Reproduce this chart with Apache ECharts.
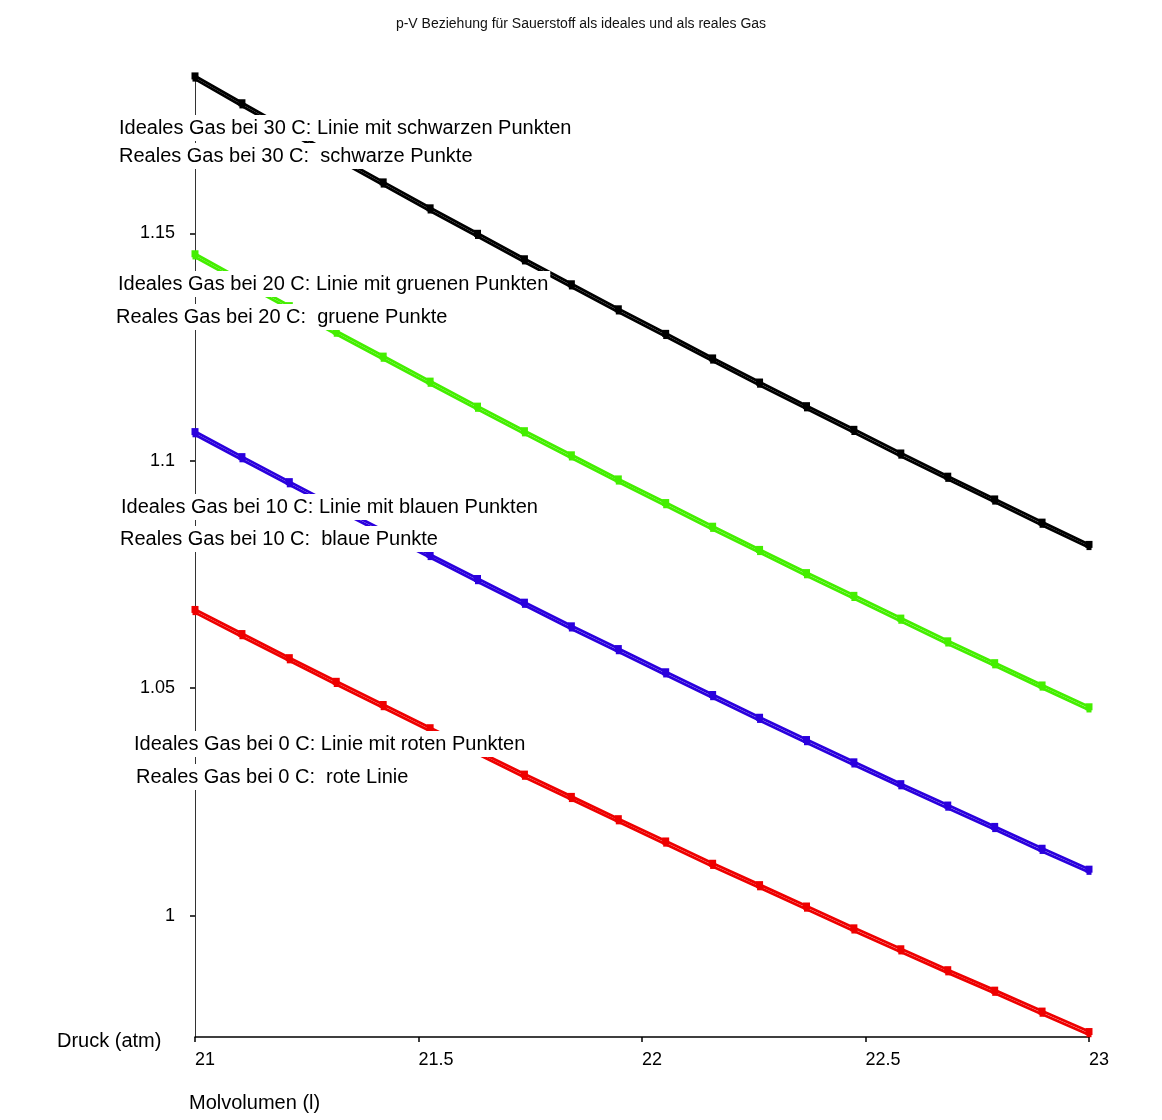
<!DOCTYPE html>
<html><head><meta charset="utf-8">
<script src="https://cdn.jsdelivr.net/npm/echarts@6/dist/echarts.min.js"></script>
<style>html,body{margin:0;padding:0;background:#fff}#c{width:1162px;height:1120px}</style>
</head><body><div id="c"></div>
<script>
// Molvolumen (l)
const volumes = [21, 21.105, 21.211, 21.316, 21.421, 21.526, 21.632, 21.737, 21.842, 21.947,
  22.053, 22.158, 22.263, 22.368, 22.474, 22.579, 22.684, 22.789, 22.895, 23];

// Druck (atm), 30 C
const ideal30 = [1.1846, 1.1787, 1.1728, 1.1670, 1.1613, 1.1556, 1.1500, 1.1444, 1.1389, 1.1334,
  1.1280, 1.1226, 1.1173, 1.1121, 1.1069, 1.1017, 1.0966, 1.0916, 1.0865, 1.0816];
const real30 = [1.1839, 1.1780, 1.1721, 1.1663, 1.1606, 1.1549, 1.1493, 1.1437, 1.1382, 1.1327,
  1.1273, 1.1219, 1.1166, 1.1114, 1.1062, 1.1010, 1.0959, 1.0909, 1.0858, 1.0809];
// 20 C
const ideal20 = [1.1455, 1.1398, 1.1341, 1.1285, 1.1230, 1.1175, 1.1120, 1.1066, 1.1013, 1.0960,
  1.0908, 1.0856, 1.0805, 1.0754, 1.0704, 1.0654, 1.0604, 1.0556, 1.0507, 1.0459];
const real20 = [1.1448, 1.1391, 1.1334, 1.1278, 1.1223, 1.1168, 1.1113, 1.1059, 1.1006, 1.0953,
  1.0901, 1.0849, 1.0798, 1.0747, 1.0697, 1.0647, 1.0597, 1.0549, 1.0500, 1.0452];
// 10 C
const ideal10 = [1.1064, 1.1009, 1.0954, 1.0900, 1.0847, 1.0794, 1.0741, 1.0689, 1.0637, 1.0587,
  1.0536, 1.0486, 1.0436, 1.0387, 1.0338, 1.0290, 1.0243, 1.0196, 1.0148, 1.0102];
const real10 = [1.1057, 1.1002, 1.0947, 1.0893, 1.0840, 1.0787, 1.0734, 1.0682, 1.0630, 1.0580,
  1.0529, 1.0479, 1.0429, 1.0380, 1.0331, 1.0283, 1.0236, 1.0189, 1.0141, 1.0095];
// 0 C
const ideal0 = [1.0673, 1.0620, 1.0567, 1.0515, 1.0464, 1.0413, 1.0362, 1.0311, 1.0262, 1.0213,
  1.0164, 1.0115, 1.0068, 1.0021, 0.9973, 0.9927, 0.9881, 0.9836, 0.9790, 0.9745];
const real0 = [1.0666, 1.0613, 1.0560, 1.0508, 1.0457, 1.0406, 1.0355, 1.0304, 1.0255, 1.0206,
  1.0157, 1.0108, 1.0061, 1.0014, 0.9966, 0.9920, 0.9874, 0.9829, 0.9783, 0.9738];

const yTickValues = [1, 1.05, 1.1, 1.15];
const xTickLabels = ['21', '21.5', '22', '22.5', '23'];

const titleText = 'p-V Beziehung für Sauerstoff als ideales und als reales Gas';
const yName = 'Druck (atm)';
const xName = 'Molvolumen (l)';
const noteTexts = [
  'Ideales Gas bei 30 C: Linie mit schwarzen Punkten',
  'Reales Gas bei 30 C:  schwarze Punkte',
  'Ideales Gas bei 20 C: Linie mit gruenen Punkten',
  'Reales Gas bei 20 C:  gruene Punkte',
  'Ideales Gas bei 10 C: Linie mit blauen Punkten',
  'Reales Gas bei 10 C:  blaue Punkte',
  'Ideales Gas bei 0 C: Linie mit roten Punkten',
  'Reales Gas bei 0 C:  rote Linie'
];
const notePos = [[117,128],[117,156],[116,284],[114,317],[119,507],[118,539],[132,744],[134,777]];

const FONT = 'Arial, "Liberation Sans", Helvetica, sans-serif';
const pair = arr => volumes.map((v, i) => [v, arr[i]]);

function mk(name, arr, color, size) {
  return {
    name: name, type: 'line', data: pair(arr),
    symbol: 'rect', symbolSize: size, showSymbol: true,
    itemStyle: { color: color },
    lineStyle: { color: color, width: 2.8 },
    emphasis: { disabled: true }, z: 2
  };
}

const chart = echarts.init(document.getElementById('c'), null, { renderer: 'canvas' });
chart.setOption({
  animation: false,
  backgroundColor: '#ffffff',
  title: {
    text: titleText, left: 'center', top: 12,
    textStyle: { fontFamily: FONT, fontSize: 14, fontWeight: 'normal', color: '#111' }
  },
  grid: { left: 195, right: 73, top: 75, bottom: 83, containLabel: false },
  xAxis: {
    type: 'value', min: 21, max: 23, interval: 0.5,
    axisLine: { show: true, onZero: false, lineStyle: { color: '#000', width: 1.5 } },
    axisTick: { show: true, length: 5, lineStyle: { color: '#000', width: 1.5 } },
    axisLabel: {
      align: 'left', margin: 14, fontFamily: FONT, fontSize: 18, color: '#000',
      formatter: (v) => xTickLabels[Math.round((v - 21) / 0.5)]
    },
    splitLine: { show: false }
  },
  yAxis: {
    type: 'value', min: 0.9733, max: 1.1848,
    axisLine: { show: true, onZero: false, lineStyle: { color: '#333', width: 1 } },
    axisTick: { show: true, length: 5, customValues: yTickValues, lineStyle: { color: '#000', width: 1.5 } },
    axisLabel: { customValues: yTickValues, margin: 20, fontFamily: FONT, fontSize: 18, color: '#000' },
    splitLine: { show: false }
  },
  series: [
    mk('Ideal 30', ideal30, '#000000', 7), mk('Real 30', real30, '#000000', 5),
    mk('Ideal 20', ideal20, '#44ee00', 7), mk('Real 20', real20, '#44ee00', 5),
    mk('Ideal 10', ideal10, '#2a00dd', 7), mk('Real 10', real10, '#2a00dd', 5),
    mk('Ideal 0', ideal0, '#ee0000', 7), mk('Real 0', real0, '#ee0000', 5)
  ],
  graphic: noteTexts.map((t, i) => ({
    type: 'text', x: notePos[i][0], y: notePos[i][1], z: 100,
    style: {
      text: t, font: '20px ' + FONT, fill: '#000', verticalAlign: 'middle',
      backgroundColor: '#ffffff', padding: [3, 2, 3, 2]
    }
  })).concat([
    { type: 'text', x: 57, y: 1041, z: 100,
      style: { text: yName, font: '20px ' + FONT, fill: '#000', verticalAlign: 'middle' } },
    { type: 'text', x: 189, y: 1103, z: 100,
      style: { text: xName, font: '20px ' + FONT, fill: '#000', verticalAlign: 'middle' } }
  ])
});
</script></body></html>
